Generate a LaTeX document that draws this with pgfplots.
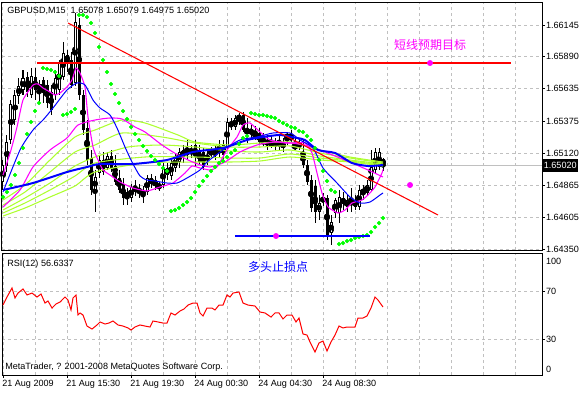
\documentclass[border=0pt]{standalone}
\usepackage{pgfplots}
\pgfplotsset{compat=1.18}
\usepackage{pgfplotstable}
\usepackage{fontspec}
\setmainfont{Liberation Sans}
\newfontfamily\cjk{Noto Sans CJK SC}
\definecolor{mtlime}{RGB}{173,255,47}
\definecolor{sargreen}{RGB}{0,255,0}
\definecolor{gridgray}{RGB}{192,192,192}
\definecolor{mtred}{RGB}{255,0,0}
\definecolor{mtmag}{RGB}{255,0,255}
\newcommand\mtfont{\fontsize{6.8}{8}\selectfont}

\pgfplotstableread{
i O H L C
0 1.64889 1.65065 1.64825 1.65025
1 1.65017 1.65265 1.64969 1.65209
2 1.65225 1.65545 1.65193 1.65513
3 1.65385 1.65625 1.65345 1.65585
4 1.65577 1.65721 1.65513 1.65657
5 1.65625 1.65785 1.65585 1.65721
6 1.65729 1.65769 1.65569 1.65609
7 1.65585 1.65801 1.65561 1.65737
8 1.65729 1.65801 1.65545 1.65625
9 1.65641 1.65705 1.65521 1.65665
10 1.65705 1.65729 1.65521 1.65601
11 1.65665 1.65705 1.65481 1.65521
12 1.65609 1.65665 1.65425 1.65465
13 1.65585 1.65785 1.65545 1.65721
14 1.65625 1.65865 1.65585 1.65841
15 1.65729 1.66009 1.65705 1.65921
16 1.65905 1.65945 1.65769 1.65849
17 1.65865 1.65929 1.65641 1.65665
18 1.65681 1.66241 1.65657 1.66169
19 1.66145 1.66201 1.65545 1.65585
20 1.65585 1.65625 1.65265 1.65305
21 1.65321 1.65385 1.65025 1.65065
22 1.65081 1.65145 1.64785 1.64825
23 1.64825 1.64985 1.64649 1.64929
24 1.64961 1.65105 1.64921 1.65065
25 1.65065 1.65129 1.64945 1.64969
26 1.65001 1.65129 1.64985 1.65097
27 1.65097 1.65145 1.64969 1.65001
28 1.65017 1.65105 1.64865 1.64889
29 1.64921 1.64985 1.64801 1.64825
30 1.64873 1.64921 1.64705 1.64761
31 1.64809 1.64841 1.64705 1.64761
32 1.64761 1.64873 1.64729 1.64849
33 1.64857 1.64905 1.64777 1.64809
34 1.64841 1.64873 1.64761 1.64801
35 1.64825 1.64857 1.64721 1.64785
36 1.64809 1.64945 1.64785 1.64921
37 1.64921 1.64953 1.64841 1.64873
38 1.64905 1.64937 1.64825 1.64857
39 1.64865 1.64889 1.64817 1.64849
40 1.64865 1.65041 1.64841 1.65001
41 1.65001 1.65041 1.64905 1.64945
42 1.64937 1.65065 1.64905 1.65041
43 1.65001 1.65121 1.64969 1.65081
44 1.65049 1.65161 1.65001 1.65129
45 1.65089 1.65185 1.65041 1.65145
46 1.65145 1.65225 1.65065 1.65105
47 1.65129 1.65185 1.65081 1.65145
48 1.65185 1.65225 1.65009 1.65089
49 1.65145 1.65185 1.65025 1.65049
50 1.65129 1.65161 1.64985 1.65009
51 1.65065 1.65145 1.65025 1.65105
52 1.65105 1.65169 1.65081 1.65145
53 1.65145 1.65177 1.65065 1.65105
54 1.65121 1.65225 1.65089 1.65169
55 1.65185 1.65225 1.65065 1.65105
56 1.65169 1.65401 1.65145 1.65369
57 1.65329 1.65401 1.65305 1.65369
58 1.65329 1.65425 1.65305 1.65401
59 1.65385 1.65441 1.65345 1.65425
60 1.65425 1.65449 1.65289 1.65305
61 1.65305 1.65401 1.65201 1.65281
62 1.65281 1.65345 1.65241 1.65305
63 1.65289 1.65337 1.65225 1.65249
64 1.65281 1.65321 1.65185 1.65209
65 1.65225 1.65281 1.65177 1.65201
66 1.65185 1.65265 1.65145 1.65225
67 1.65209 1.65257 1.65161 1.65185
68 1.65185 1.65241 1.65145 1.65209
69 1.65209 1.65265 1.65145 1.65185
70 1.65169 1.65241 1.65129 1.65201
71 1.65241 1.65289 1.65185 1.65265
72 1.65265 1.65305 1.65209 1.65225
73 1.65185 1.65241 1.65145 1.65161
74 1.65177 1.65225 1.65145 1.65201
75 1.65129 1.65225 1.65001 1.65025
76 1.65025 1.65065 1.64865 1.64889
77 1.64905 1.64945 1.64649 1.64681
78 1.64857 1.64905 1.64561 1.64649
79 1.64649 1.64785 1.64585 1.64721
80 1.64729 1.64801 1.64697 1.64769
81 1.64761 1.64785 1.64425 1.64465
82 1.64481 1.64625 1.64385 1.64569
83 1.64641 1.64761 1.64601 1.64745
84 1.64641 1.64825 1.64561 1.64769
85 1.64761 1.64809 1.64665 1.64713
86 1.64689 1.64785 1.64649 1.64745
87 1.64705 1.64841 1.64649 1.64745
88 1.64689 1.64785 1.64665 1.64745
89 1.64689 1.64865 1.64665 1.64825
90 1.64825 1.64865 1.64745 1.64801
91 1.64801 1.64905 1.64777 1.64865
92 1.64825 1.65145 1.64809 1.65009
93 1.64985 1.65161 1.64961 1.65129
94 1.65009 1.65161 1.64985 1.65129
95 1.65078 1.65079 1.64975 1.65020
}\candles

\pgfplotstableread{
i p
0 1.64769
1 1.64809
2 1.64865
3 1.64945
4 1.65041
5 1.65161
6 1.65273
7 1.65369
8 1.65457
9 1.65521
10 1.65801
11 1.65793
12 1.65785
13 1.65769
14 1.65737
15 1.65425
16 1.65433
17 1.65449
18 1.65473
19 1.66225
20 1.66225
21 1.66209
22 1.66161
23 1.66081
24 1.65969
25 1.65865
26 1.65769
27 1.65673
28 1.65593
29 1.65521
30 1.65457
31 1.65393
32 1.65329
33 1.65273
34 1.65225
35 1.65177
36 1.65137
37 1.65097
38 1.65065
39 1.65033
40 1.65001
41 1.64977
42 1.64657
43 1.64665
44 1.64681
45 1.64705
46 1.64729
47 1.64761
48 1.64809
49 1.64857
50 1.64897
51 1.64937
52 1.64977
53 1.65009
54 1.65041
55 1.65057
56 1.65089
57 1.65121
58 1.65145
59 1.65193
60 1.65241
61 1.65257
62 1.65441
63 1.65433
64 1.65425
65 1.65425
66 1.65417
67 1.65409
68 1.65401
69 1.65377
70 1.65361
71 1.65345
72 1.65329
73 1.65321
74 1.65297
75 1.65289
76 1.65257
77 1.65225
78 1.65161
79 1.65065
80 1.64977
81 1.64897
82 1.64825
83 1.64809
84 1.64393
85 1.64401
86 1.64417
87 1.64425
88 1.64441
89 1.64449
90 1.64457
91 1.64465
92 1.64489
93 1.64529
94 1.64561
95 1.64601
}\sar

\begin{document}
\begin{tikzpicture}
\path[use as bounding box] (0,0) rectangle (435pt,-294.75pt);
% ---------------- main price panel ----------------
\begin{axis}[
  at={(1.5pt,-1.5pt)}, anchor=north west, scale only axis,
  width=405pt, height=186pt,
  xmin=-0.25, xmax=134.75, ymin=1.64345, ymax=1.66329,
  axis line style={line width=0.75pt, black},
  xtick={0,8,...,128}, xticklabels={},
  xtick style={/pgfplots/major tick length=0pt},
  ytick={1.64350,1.64605,1.64865,1.65120,1.65375,1.65635,1.65890,1.66145},
  yticklabels={1.64350,1.64605,1.64865,1.65120,1.65375,1.65635,1.65890,1.66145},
  ytick pos=right, yticklabel pos=right,
  tick align=outside, major tick length=2.25pt,
  ytick style={line width=0.75pt, black},
  yticklabel style={font=\mtfont, anchor=west, inner sep=0pt, xshift=0.6pt},
  grid=major,
  major grid style={gridgray, line width=0.75pt, dash pattern=on 2.25pt off 2.25pt},
  clip mode=individual,
]
% current bid line
\addplot[gridgray, line width=0.75pt, forget plot] coordinates {(-0.25,1.65020) (134.75,1.65020)};
% wicks
\addplot[only marks, mark=none, forget plot,
  error bars/.cd, y dir=both, y explicit, error mark=none,
  error bar style={line width=0.75pt, black}]
  table[x=i, y expr={(\thisrow{H}+\thisrow{L})/2}, y error expr={(\thisrow{H}-\thisrow{L})/2}] {\candles};
% bodies
\addplot[only marks, mark=none, forget plot,
  error bars/.cd, y dir=both, y explicit, error mark=none,
  error bar style={line width=2.25pt, black}]
  table[x=i, y expr={(\thisrow{O}+\thisrow{C})/2}, y error expr={max(abs(\thisrow{C}-\thisrow{O})/2,0.00004)}] {\candles};
% white interior of rising candles
\addplot[only marks, mark=none, forget plot,
  error bars/.cd, y dir=both, y explicit, error mark=none,
  error bar style={line width=0.75pt, white}]
  table[x=i, y expr={(\thisrow{O}+\thisrow{C})/2}, y error expr={max((\thisrow{C}-\thisrow{O})/2-0.00008,0)}] {\candles};
% lime moving averages
\addplot[mtlime, line width=0.8pt, smooth, tension=0.4] coordinates {(0,1.64745)(5.5,1.64865)(11.75,1.65065)(18,1.65249)(23,1.65305)(29.75,1.65385)(35.5,1.65361)(43.75,1.65265)(48,1.65209)(56.75,1.65185)(64.25,1.65201)(71.75,1.65209)(79.25,1.65145)(86.75,1.65089)(95,1.65049)};
\addplot[mtlime, line width=0.8pt, smooth, tension=0.4] coordinates {(0,1.64705)(5.5,1.64809)(11.75,1.64969)(18,1.65129)(23,1.65185)(29.75,1.65281)(39.75,1.65249)(48,1.65201)(56.75,1.65169)(64.25,1.65169)(71.75,1.65177)(79.25,1.65121)(86.75,1.65081)(95,1.65041)};
\addplot[mtlime, line width=0.8pt, smooth, tension=0.4] coordinates {(0,1.64665)(5.5,1.64761)(11.75,1.64881)(18,1.65017)(23,1.65089)(31.25,1.65169)(39.75,1.65185)(48,1.65169)(56.75,1.65137)(64.25,1.65129)(71.75,1.65145)(79.25,1.65097)(86.75,1.65065)(95,1.65033)};
\addplot[mtlime, line width=0.8pt, smooth, tension=0.4] coordinates {(0,1.64641)(5.5,1.64721)(11.75,1.64825)(18,1.64937)(23,1.65041)(35.5,1.65089)(48,1.65089)(56.75,1.65081)(64.25,1.65081)(71.75,1.65113)(79.25,1.65081)(86.75,1.65057)(95,1.65025)};
\addplot[mtlime, line width=0.8pt, smooth, tension=0.4] coordinates {(0,1.64617)(5.5,1.64681)(11.75,1.64769)(18,1.64857)(23,1.64969)(35.5,1.65041)(48,1.65049)(56.75,1.65049)(64.25,1.65057)(71.75,1.65089)(79.25,1.65065)(86.75,1.65049)(95,1.65017)};
% slow magenta
\addplot[mtmag, line width=0.8pt, smooth, tension=0.4] coordinates {(0,1.64689)(4.25,1.64825)(7.5,1.65009)(11.75,1.65145)(16,1.65241)(18.75,1.65345)(23,1.65385)(26.75,1.65401)(29.75,1.65393)(33,1.65329)(35.5,1.65289)(39.75,1.65185)(43.75,1.65105)(48,1.65041)(51.75,1.65009)(55.5,1.65049)(59.25,1.65129)(63.5,1.65185)(68,1.65209)(71.75,1.65201)(75.5,1.65185)(79.25,1.65145)(83,1.65097)(87.25,1.65041)(91.25,1.64985)(95,1.64929)};
% fast magenta
\addplot[mtmag, line width=0.8pt, smooth, tension=0.3] coordinates {(0,1.64945)(2,1.65145)(3.5,1.65329)(5,1.65545)(7.5,1.65665)(8.75,1.65673)(10,1.65641)(11.75,1.65609)(13,1.65585)(14.25,1.65601)(16,1.65649)(17.25,1.65705)(18.25,1.65801)(19.25,1.65761)(20.5,1.65649)(21.25,1.65409)(22.5,1.65169)(23.75,1.65065)(25,1.64985)(26.75,1.64945)(29.25,1.64889)(32.5,1.64841)(36,1.64817)(39.25,1.64849)(42.5,1.64881)(45.5,1.64961)(47.25,1.65017)(49.25,1.65001)(51.75,1.64985)(53.5,1.65009)(56,1.65145)(58.5,1.65249)(60,1.65345)(61.75,1.65361)(64.25,1.65289)(66.75,1.65225)(70.5,1.65201)(75.5,1.65201)(77.25,1.65121)(78.5,1.64961)(79.75,1.64801)(81.25,1.64689)(83.75,1.64641)(85.5,1.64665)(87.25,1.64721)(89.75,1.64745)(91.25,1.64785)(93,1.64849)(94.75,1.64961)(95,1.64990)};
% thick blue
\addplot[blue, line width=1.5pt, smooth, tension=0.4] coordinates {(0,1.64825)(7.5,1.64881)(16,1.64969)(21,1.65009)(24.25,1.65033)(32.5,1.65033)(41,1.65065)(47.5,1.65129)(55,1.65161)(61,1.65225)(65,1.65249)(69.25,1.65265)(73.5,1.65241)(75.5,1.65225)(78.75,1.65145)(83,1.65121)(87.25,1.65041)(91.25,1.65017)(95,1.65025)};
% thin blue
\addplot[blue, line width=0.75pt, smooth, tension=0.4] coordinates {(0,1.64809)(4.25,1.65145)(7.5,1.65305)(10,1.65385)(12.5,1.65481)(16,1.65625)(18.5,1.65681)(20.5,1.65665)(22.5,1.65545)(24.25,1.65481)(26.75,1.65425)(28.5,1.65321)(30.5,1.65169)(32.25,1.65049)(34.25,1.64937)(36,1.64905)(38,1.64897)(41,1.64881)(43.5,1.64881)(46,1.64921)(49.25,1.64985)(51,1.65049)(55,1.65145)(59.25,1.65225)(63.5,1.65249)(67.5,1.65281)(71.75,1.65281)(74.25,1.65225)(77.5,1.65161)(80,1.65001)(83.5,1.64881)(86.75,1.64769)(89.25,1.64721)(91.75,1.64729)(94.25,1.64785)(95,1.64801)};
% parabolic SAR
\addplot[only marks, mark=*, mark size=1.4pt, mark options={draw=sargreen, fill=sargreen}] table[x=i, y=p] {\sar};
% trend line, target line, stop line
\addplot[mtred, line width=0.8pt] coordinates {(16.25,1.66161) (108.75,1.64625)};
\addplot[mtred, line width=1pt] coordinates {(8.5,1.65841) (127,1.65841)};
\addplot[blue, line width=1.1pt] coordinates {(58,1.64457) (91.75,1.64457)};
\addplot[only marks, mark=*, mark size=2pt, mark options={draw=mtmag, fill=mtmag}] coordinates {(106.75,1.65841) (68.25,1.64457) (101.75,1.64865)};
% texts
\node[anchor=west, font=\mtfont, inner sep=0pt] at (axis cs:1,1.66261) {GBPUSD,M15\ \ 1.65078 1.65079 1.64975 1.65020};
\node[text=mtmag, font=\cjk\fontsize{9}{10}\selectfont, inner sep=0pt] at (axis cs:106.75,1.65985) {短线预期目标};
\node[fill=black, text=white, font=\mtfont, anchor=west, inner xsep=1.2pt, inner ysep=2.6pt] at (axis cs:134.75,1.65020) {1.65020};
\end{axis}
% ---------------- RSI panel ----------------
\begin{axis}[
  at={(1.5pt,-189.75pt)}, anchor=north west, scale only axis,
  width=405pt, height=91.5pt,
  xmin=-0.25, xmax=134.75, ymin=0, ymax=101.67,
  axis line style={line width=0.75pt, black},
  xtick={0,16,32,48,64,80},
  xticklabels={21 Aug 2009,21 Aug 15:30,21 Aug 19:30,24 Aug 00:30,24 Aug 04:30,24 Aug 08:30},
  minor xtick={8,24,40,56,72,88,96,104,112,120,128},
  xtick pos=bottom, ytick pos=right, yticklabel pos=right,
  tick align=outside, major tick length=2.25pt, minor tick length=0pt,
  ytick={30,70}, yticklabels={30,70},
  tick style={line width=0.75pt, black},
  xticklabel style={font=\mtfont, anchor=north west, inner sep=0pt, xshift=-0.75pt, yshift=-1.5pt},
  yticklabel style={font=\mtfont, anchor=west, inner sep=0pt, xshift=0.6pt},
  grid=both,
  major grid style={gridgray, line width=0.75pt, dash pattern=on 2.25pt off 2.25pt},
  minor grid style={gridgray, line width=0.75pt, dash pattern=on 2.25pt off 2.25pt},
  clip mode=individual,
]
\addplot[mtred, line width=0.75pt] coordinates {(0,58.3)(1,65.0)(2.25,72.5)(3,64.2)(3.75,68.3)(5,71.7)(6,66.7)(7.25,68.3)(8.5,65.0)(9.5,67.5)(10.5,60.0)(11.25,61.7)(12.25,55.8)(13.25,59.2)(14.25,60.8)(15.5,65.0)(16.25,62.5)(17,54.2)(17.5,64.2)(18.25,66.7)(18.75,50.0)(19.25,51.7)(20,50.0)(21,40.8)(22.25,38.3)(23.5,41.7)(24.25,44.2)(25.5,42.5)(26.5,43.3)(27.5,45.0)(28.75,41.7)(30,40.8)(31.25,39.2)(32,37.5)(33,40.0)(34.25,41.7)(35.5,40.8)(36.75,40.0)(37.5,45.0)(38.75,44.2)(40,43.3)(41,43.3)(42,51.7)(43,50.0)(44.25,53.3)(45.25,55.0)(46.25,58.3)(47.5,60.0)(48.5,60.0)(49.25,51.7)(50,49.2)(51,55.8)(52.25,55.8)(53,54.2)(54,58.3)(55,58.3)(56,66.7)(56.75,65.0)(57.5,68.3)(59,69.2)(60,60.0)(61.25,58.3)(63,57.5)(64.25,52.5)(65.5,51.7)(67,48.3)(68,51.7)(69,51.7)(70,46.7)(71,50.0)(72.25,50.0)(73.25,44.2)(74,47.5)(75,34.2)(76,33.3)(76.75,27.5)(78,19.2)(79,26.7)(80,28.3)(81,20.0)(82,27.5)(83,33.3)(84,40.8)(85,39.2)(86,40.0)(87,40.0)(88,40.0)(88.75,47.5)(90,47.5)(91,49.2)(92,55.8)(93,65.0)(93.75,62.5)(95,56.63)};
\node[anchor=west, font=\mtfont, inner sep=0pt] at (axis cs:1,92.5) {RSI(12) 56.6337};
\node[anchor=west, font=\mtfont, inner sep=0pt] at (axis cs:0.5,6.7) {MetaTrader, ? 2001-2008 MetaQuotes Software Corp.};
\node[text=blue, font=\cjk\fontsize{9}{10}\selectfont, inner sep=0pt] at (axis cs:68.75,90) {多头止损点};
\node[anchor=west, font=\mtfont, inner sep=0pt, xshift=2.9pt] at (axis cs:134.75,95) {100};
\node[anchor=west, font=\mtfont, inner sep=0pt, xshift=2.9pt] at (axis cs:134.75,5) {0};
\end{axis}
\end{tikzpicture}
\end{document}
